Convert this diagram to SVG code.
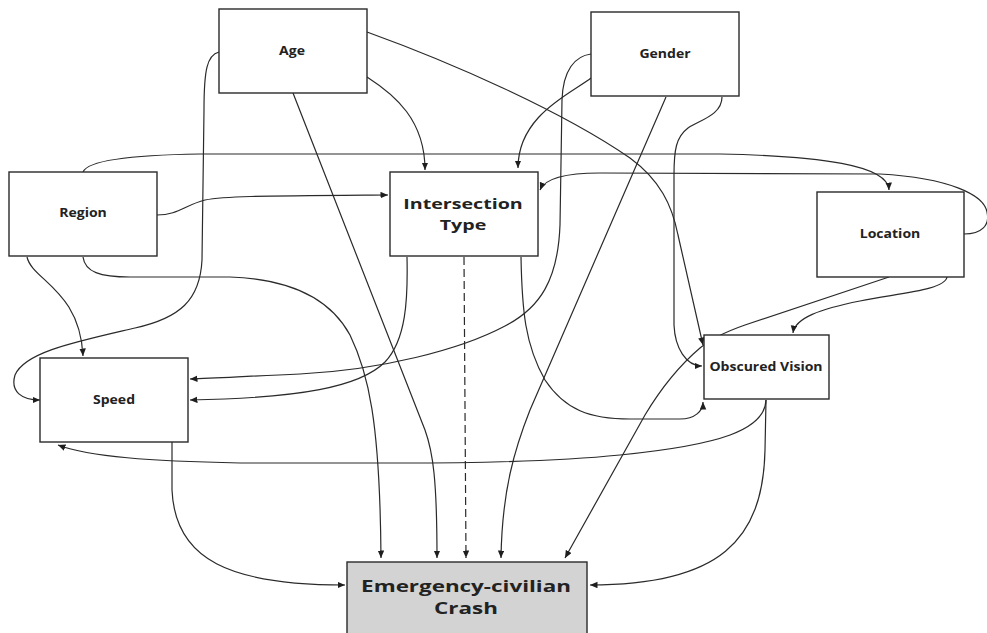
<svg xmlns="http://www.w3.org/2000/svg" width="987" height="633" viewBox="0 0 987 633">
  <defs>
    <marker id="arrow" markerUnits="userSpaceOnUse" markerWidth="8" markerHeight="7" refX="7.5" refY="3.25" orient="auto">
      <path d="M0,0 L7.5,3.25 L0,6.5 z" fill="#1e1e1e"/>
    </marker>
  </defs>
  <style>
    .edge { fill: none; stroke: #2a2a2a; stroke-width: 1.2; marker-end: url(#arrow); }
    .dashed { stroke-dasharray: 8 4; }
    .box { fill: #ffffff; stroke: #2a2a2a; stroke-width: 1.4; }
    .outcome { fill: #d3d3d3; stroke: #2a2a2a; stroke-width: 1.4; }
    .label { font-family: "Open Sans", "Liberation Sans", sans-serif; font-weight: bold; fill: #222222; text-anchor: middle; }
    .small { font-size: 11.7px; }
    .mid { font-size: 15px; }
    .big { font-size: 16px; }
  </style>
  <rect width="987" height="633" fill="#ffffff"/>

  <g id="connectors">
    <!-- Age -->
    <path class="edge" d="M219,52 C207,55 204,70 204,110 L202,260 C200,300 180,318 135,328 C75,342 25,352 15,375 C10,392 22,400 40,400"/>
    <path class="edge" d="M293,93 L425,430 C433,452 437,480 437,558"/>
    <path class="edge" d="M367,32 C450,62 560,110 630,158 C660,180 672,205 678,235 L703,345"/>
    <path class="edge" d="M367,77 C395,95 425,120 425,170"/>
    <!-- Region -->
    <path class="edge" d="M83,172 C88,160 130,155 200,154 L720,154 C820,156 888,165 889,190"/>
    <path class="edge" d="M157,215 C178,215 185,205 205,200 C225,196 260,196 388,195"/>
    <path class="edge" d="M27,257 C32,280 80,290 83,356"/>
    <path class="edge" d="M83,257 C85,272 100,277 130,277 L230,277 C290,279 330,298 350,335 C368,372 380,420 381,558"/>
    <!-- Intersection Type -->
    <path class="edge" d="M407,257 C408,300 406,340 385,362 C360,387 300,398 190,400"/>
    <path class="edge" d="M521,257 C522,310 525,345 545,380 C565,410 590,419 630,419 L680,419 C695,419 703,411 703,402"/>
    <path class="edge dashed" d="M464,257 L466,558"/>
    <!-- Gender -->
    <path class="edge" d="M591,54 C575,56 563,70 562,100 L560,225 C558,280 540,308 505,326 C460,350 380,370 300,374 C250,376 220,378 190,379"/>
    <path class="edge" d="M591,78 C572,93 518,115 518,168"/>
    <path class="edge" d="M666,97 L530,410 C515,448 502,490 501,558"/>
    <path class="edge" d="M722,97 C722,115 700,120 688,128 C676,137 674,150 674,175 L674,325 C675,348 686,366 702,366"/>
    <!-- Location -->
    <path class="edge" d="M964,234 C982,234 990,225 987,212 C984,195 950,178 880,174 L600,173 C565,173 545,178 540,190"/>
    <path class="edge" d="M947,277 C945,290 900,293 860,301 C820,309 795,318 793,333"/>
    <path class="edge" d="M889,277 L745,325 C725,332 712,338 700,348 C680,365 660,390 645,415 L565,558"/>
    <!-- Obscured Vision -->
    <path class="edge" d="M766,400 C765,430 720,445 620,455 C560,461 500,463 400,463 L240,463 C150,461 90,457 58,445"/>
    <path class="edge" d="M766,400 L765,450 C763,540 720,585 590,585"/>
    <!-- Speed -->
    <path class="edge" d="M172,442 L172,490 C175,560 230,585 345,585"/>
  </g>

  <g id="age">
    <rect class="box" x="219" y="9" width="148" height="84"/>
    <text class="label small" transform="translate(292,55) scale(1.2,1)">Age</text>
  </g>
  <g id="gender">
    <rect class="box" x="591" y="12" width="148" height="84"/>
    <text class="label small" transform="translate(665,58) scale(1.2,1)">Gender</text>
  </g>
  <g id="region">
    <rect class="box" x="9" y="172" width="148" height="84"/>
    <text class="label small" transform="translate(83,217) scale(1.2,1)">Region</text>
  </g>
  <g id="intersection-type">
    <rect class="box" x="390" y="172" width="148" height="84"/>
    <text class="label mid" transform="translate(463,209) scale(1.31,1)">Intersection</text>
    <text class="label mid" transform="translate(463,230) scale(1.31,1)">Type</text>
  </g>
  <g id="location">
    <rect class="box" x="817" y="192" width="147" height="85"/>
    <text class="label small" transform="translate(890,238) scale(1.2,1)">Location</text>
  </g>
  <g id="speed">
    <rect class="box" x="40" y="358" width="148" height="84"/>
    <text class="label small" transform="translate(114,404) scale(1.2,1)">Speed</text>
  </g>
  <g id="obscured-vision">
    <rect class="box" x="704" y="335" width="125" height="64"/>
    <text class="label small" transform="translate(766,371) scale(1.2,1)">Obscured Vision</text>
  </g>
  <g id="crash">
    <rect class="outcome" x="347" y="562" width="240" height="80"/>
    <text class="label big" transform="translate(466,592) scale(1.4,1)">Emergency-civilian</text>
    <text class="label big" transform="translate(466,614) scale(1.4,1)">Crash</text>
  </g>
</svg>
